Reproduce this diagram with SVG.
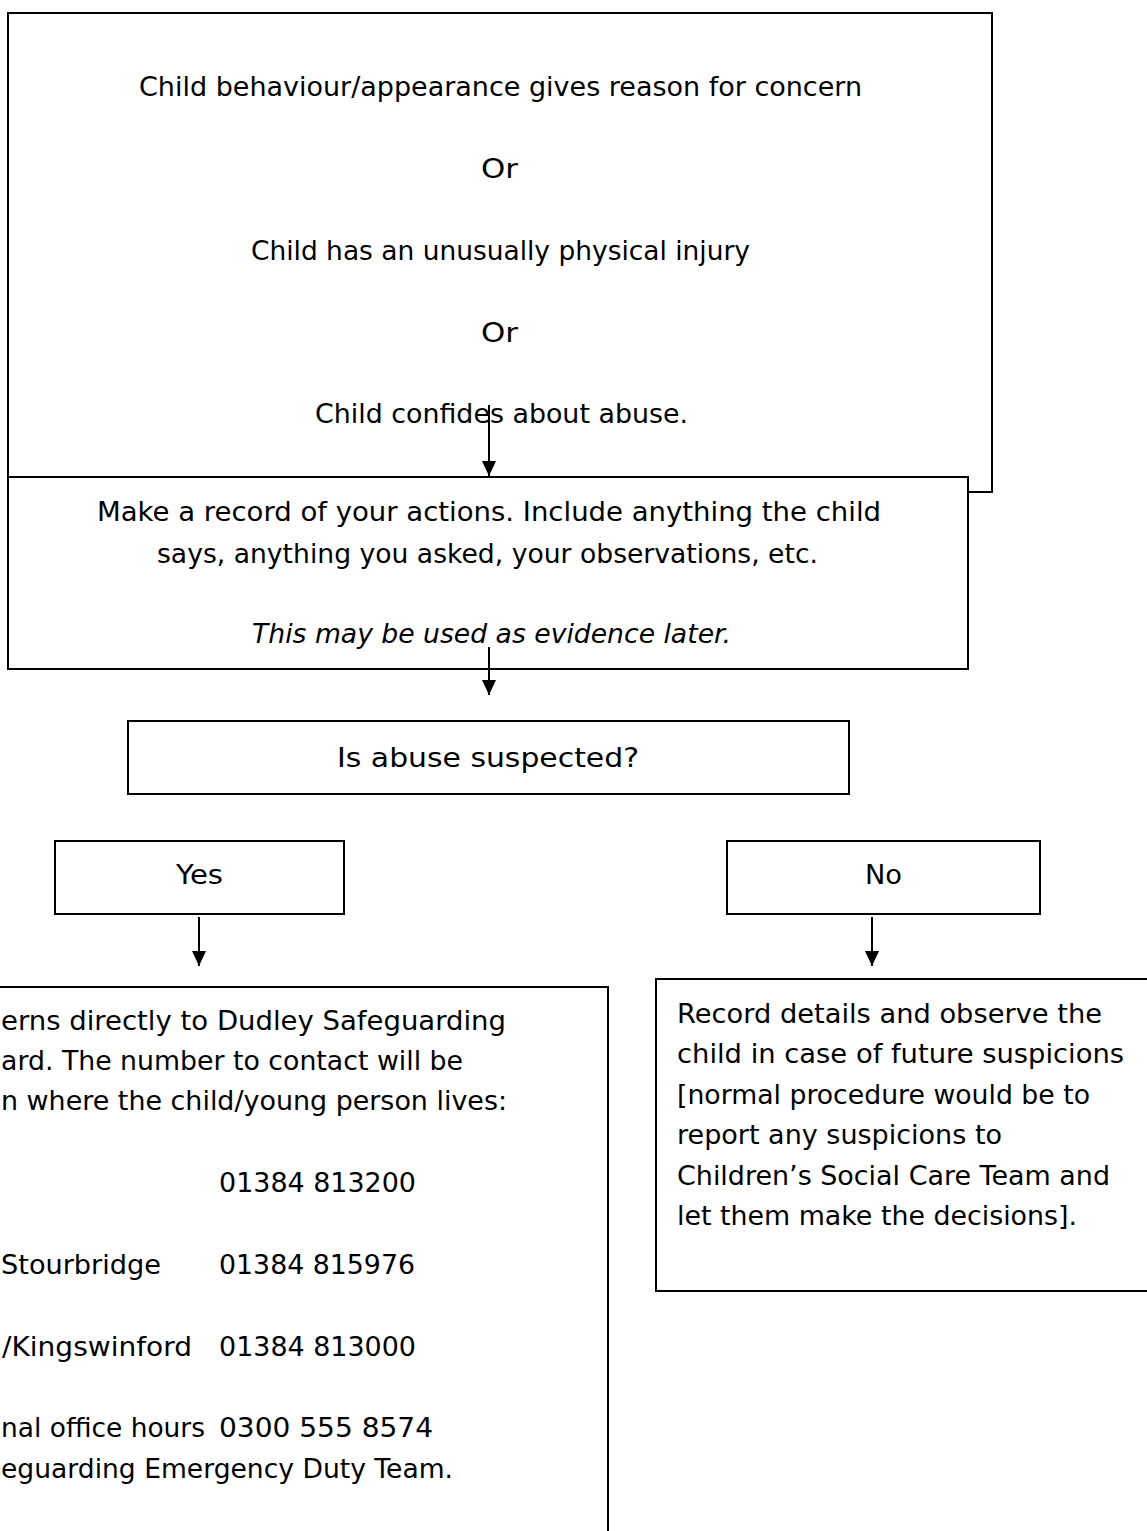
<svg xmlns="http://www.w3.org/2000/svg" width="1147" height="1531" viewBox="0 0 1147 1531">
<style>
  .box { fill: #ffffff; stroke: #000000; stroke-width: 2; }
  .t { font-family: 'DejaVu Sans', 'Liberation Sans', sans-serif; font-size: 26px; fill: #000000; }
  .it { font-style: italic; }
  .conn { stroke: #000000; stroke-width: 2; fill: none; }
</style>
<defs>
  <marker id="arrow" viewBox="0 0 15 14" refX="15" refY="7" markerWidth="15" markerHeight="14" markerUnits="userSpaceOnUse" orient="auto">
    <path d="M0,0 L15,7 L0,14 z" fill="#000000"/>
  </marker>
</defs>
<rect x="0" y="0" width="1147" height="1531" fill="#ffffff"/>

<g id="node-concern">
  <rect class="box" x="8" y="13" width="984" height="479"/>
  <text class="t" x="139" y="96" textLength="723" lengthAdjust="spacingAndGlyphs">Child behaviour/appearance gives reason for concern</text>
  <text class="t" x="481" y="178" textLength="37" lengthAdjust="spacingAndGlyphs">Or</text>
  <text class="t" x="251" y="260" textLength="499" lengthAdjust="spacingAndGlyphs">Child has an unusually physical injury</text>
  <text class="t" x="481" y="342" textLength="37" lengthAdjust="spacingAndGlyphs">Or</text>
  <text class="t" x="315" y="423" textLength="373" lengthAdjust="spacingAndGlyphs">Child confides about abuse.</text>
</g>

<g id="node-record">
  <rect class="box" x="8" y="477" width="960" height="192"/>
  <text class="t" x="97" y="521" textLength="784" lengthAdjust="spacingAndGlyphs">Make a record of your actions. Include anything the child</text>
  <text class="t" x="157" y="563" textLength="661" lengthAdjust="spacingAndGlyphs">says, anything you asked, your observations, etc.</text>
  <text class="t it" x="252" y="643" textLength="479" lengthAdjust="spacingAndGlyphs">This may be used as evidence later.</text>
</g>

<g id="node-suspected">
  <rect class="box" x="128" y="721" width="721" height="73"/>
  <text class="t" x="337" y="767" textLength="302" lengthAdjust="spacingAndGlyphs">Is abuse suspected?</text>
</g>

<g id="node-yes">
  <rect class="box" x="55" y="841" width="289" height="73"/>
  <text class="t" x="176" y="884" textLength="47" lengthAdjust="spacingAndGlyphs">Yes</text>
</g>

<g id="node-no">
  <rect class="box" x="727" y="841" width="313" height="73"/>
  <text class="t" x="865" y="884" textLength="37" lengthAdjust="spacingAndGlyphs">No</text>
</g>

<g id="node-report">
  <rect class="box" x="-20" y="987" width="628" height="600"/>
  <text class="t" x="1" y="1030" textLength="505" lengthAdjust="spacingAndGlyphs">erns directly to Dudley Safeguarding</text>
  <text class="t" x="1" y="1070" textLength="462" lengthAdjust="spacingAndGlyphs">ard. The number to contact will be</text>
  <text class="t" x="1" y="1110" textLength="506" lengthAdjust="spacingAndGlyphs">n where the child/young person lives:</text>
  <text class="t" x="219" y="1192" textLength="197" lengthAdjust="spacingAndGlyphs">01384 813200</text>
  <text class="t" x="1" y="1274" textLength="160" lengthAdjust="spacingAndGlyphs">Stourbridge</text>
  <text class="t" x="219" y="1274" textLength="196" lengthAdjust="spacingAndGlyphs">01384 815976</text>
  <text class="t" x="2" y="1356" textLength="190" lengthAdjust="spacingAndGlyphs">/Kingswinford</text>
  <text class="t" x="219" y="1356" textLength="197" lengthAdjust="spacingAndGlyphs">01384 813000</text>
  <text class="t" x="1" y="1437" textLength="204" lengthAdjust="spacingAndGlyphs">nal office hours</text>
  <text class="t" x="219" y="1437" textLength="214" lengthAdjust="spacingAndGlyphs">0300 555 8574</text>
  <text class="t" x="1" y="1478" textLength="452" lengthAdjust="spacingAndGlyphs">eguarding Emergency Duty Team.</text>
</g>

<g id="node-observe">
  <rect class="box" x="656" y="979" width="520" height="312"/>
  <text class="t" x="677" y="1023" textLength="425" lengthAdjust="spacingAndGlyphs">Record details and observe the</text>
  <text class="t" x="677" y="1063" textLength="447" lengthAdjust="spacingAndGlyphs">child in case of future suspicions</text>
  <text class="t" x="677" y="1104" textLength="413" lengthAdjust="spacingAndGlyphs">[normal procedure would be to</text>
  <text class="t" x="677" y="1144" textLength="325" lengthAdjust="spacingAndGlyphs">report any suspicions to</text>
  <text class="t" x="677" y="1185" textLength="433" lengthAdjust="spacingAndGlyphs">Children’s Social Care Team and</text>
  <text class="t" x="677" y="1225" textLength="400" lengthAdjust="spacingAndGlyphs">let them make the decisions].</text>
</g>

<g id="connectors">
  <line class="conn" x1="489" y1="405" x2="489" y2="476" marker-end="url(#arrow)"/>
  <line class="conn" x1="489" y1="647" x2="489" y2="695" marker-end="url(#arrow)"/>
  <line class="conn" x1="199" y1="917" x2="199" y2="966" marker-end="url(#arrow)"/>
  <line class="conn" x1="872" y1="917" x2="872" y2="966" marker-end="url(#arrow)"/>
</g>
</svg>
